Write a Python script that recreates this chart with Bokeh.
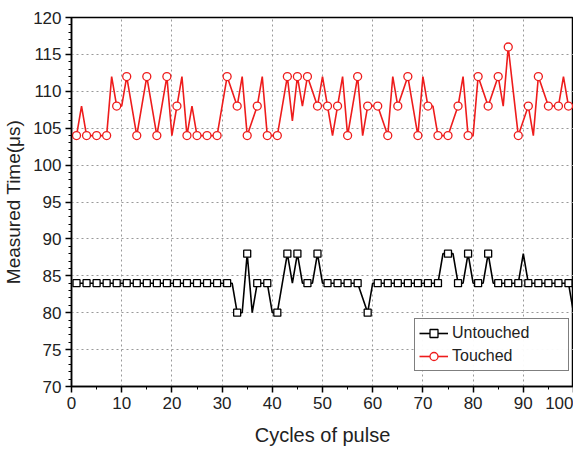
from bokeh.plotting import figure
from bokeh.models import Range1d, FixedTicker, Legend, LegendItem
from bokeh.embed import file_html
from bokeh.resources import INLINE

cycles = list(range(1, 101))

touched = [104, 108, 104, 104, 104, 104, 104, 112, 108, 108,
           112, 108, 104, 108, 112, 108, 104, 108, 112, 104,
           108, 112, 104, 108, 104, 104, 104, 104, 104, 108,
           112, 110, 108, 112, 104, 106, 108, 112, 104, 104,
           104, 108, 112, 106, 112, 108, 112, 110, 108, 112,
           108, 104, 108, 112, 104, 108, 112, 104, 108, 108,
           108, 106, 104, 112, 108, 110, 112, 108, 104, 112,
           108, 108, 104, 104, 104, 106, 108, 112, 104, 104,
           112, 110, 108, 110, 112, 108, 116, 110, 104, 106,
           108, 104, 112, 110, 108, 108, 108, 112, 108, 108]

untouched = [84] * 32 + [80, 80, 88, 80, 84, 84, 84, 80, 80, 84,
                         88, 84, 88, 84, 84, 84, 88, 84, 84, 84,
                         84, 84, 84, 84, 84, 82, 80, 84, 84, 84,
                         84, 84, 84, 84, 84, 84, 84, 84, 84, 84,
                         84, 88, 88, 88, 84, 84, 88, 84, 84, 84,
                         88, 84, 84, 84, 84, 84, 84, 88, 84, 84,
                         84, 84, 84, 84, 84, 84, 84, 80]

x_ticks = list(range(0, 101, 10))
y_ticks = list(range(70, 121, 5))

FONT = "Liberation Sans"

p = figure(frame_width=502, frame_height=369, output_backend="svg", toolbar_location=None,
           x_range=Range1d(0, 100), y_range=Range1d(70, 120),
           min_border_left=65, min_border_right=0, min_border_top=17, min_border_bottom=66)

p.outline_line_color = "black"
p.outline_line_width = 1.5
p.background_fill_color = "white"
p.border_fill_color = "white"

for ax in (p.xaxis[0], p.yaxis[0]):
    ax.axis_line_width = 1.5
    ax.major_tick_line_width = 1.5
    ax.minor_tick_line_width = 1
    ax.major_tick_in = 0
    ax.major_tick_out = 6
    ax.minor_tick_in = 0
    ax.minor_tick_out = 3
    ax.major_label_text_font = FONT
    ax.major_label_text_font_size = "17px"
    ax.major_label_text_color = "#222222"
    ax.axis_label_text_font = FONT
    ax.axis_label_text_font_style = "normal"
    ax.axis_label_text_color = "#222222"

p.xaxis.ticker = FixedTicker(ticks=x_ticks, minor_ticks=list(range(0, 101, 5)))
p.yaxis.ticker = FixedTicker(ticks=y_ticks, minor_ticks=list(range(70, 121, 1)))
p.xaxis.axis_label = "Cycles of pulse"
p.yaxis.axis_label = "Measured Time(μs)"
p.xaxis.axis_label_text_font_size = "20px"
p.yaxis.axis_label_text_font_size = "19px"
p.xaxis.major_label_standoff = 4
p.yaxis.major_label_standoff = 4
p.xaxis.axis_label_standoff = 12
p.yaxis.axis_label_standoff = 6

p.xgrid.ticker = FixedTicker(ticks=x_ticks[1:-1])
p.ygrid.ticker = FixedTicker(ticks=y_ticks[1:-1])
for g in (p.xgrid[0], p.ygrid[0]):
    g.grid_line_color = "#999999"
    g.grid_line_dash = "2 3"
    g.grid_line_width = 1

black_line = p.line(cycles, untouched, line_color="black", line_width=1.6)
black_pts = p.scatter(cycles[0::2], untouched[0::2], marker="square", size=7,
                      fill_color="white", line_color="black", line_width=1.3)
red_line = p.line(cycles, touched, line_color="#ee1c1c", line_width=1.6)
red_pts = p.scatter(cycles[0::2], touched[0::2], marker="circle", size=8,
                    fill_color="white", line_color="#ee1c1c", line_width=1.3)

legend = Legend(items=[
    LegendItem(label="Untouched", renderers=[black_line, black_pts]),
    LegendItem(label="Touched", renderers=[red_line, red_pts]),
], location=(343, 15))
legend.label_text_font = FONT
legend.label_text_font_size = "16px"
legend.label_text_color = "#222222"
legend.border_line_color = "black"
legend.border_line_width = 1
legend.glyph_width = 29
legend.glyph_height = 20
legend.label_height = 20
legend.label_width = 112
legend.spacing = 3
legend.padding = 4
legend.margin = 0
legend.label_standoff = 4
p.add_layout(legend, "center")

open("out.html", "w").write(file_html(p, INLINE))
